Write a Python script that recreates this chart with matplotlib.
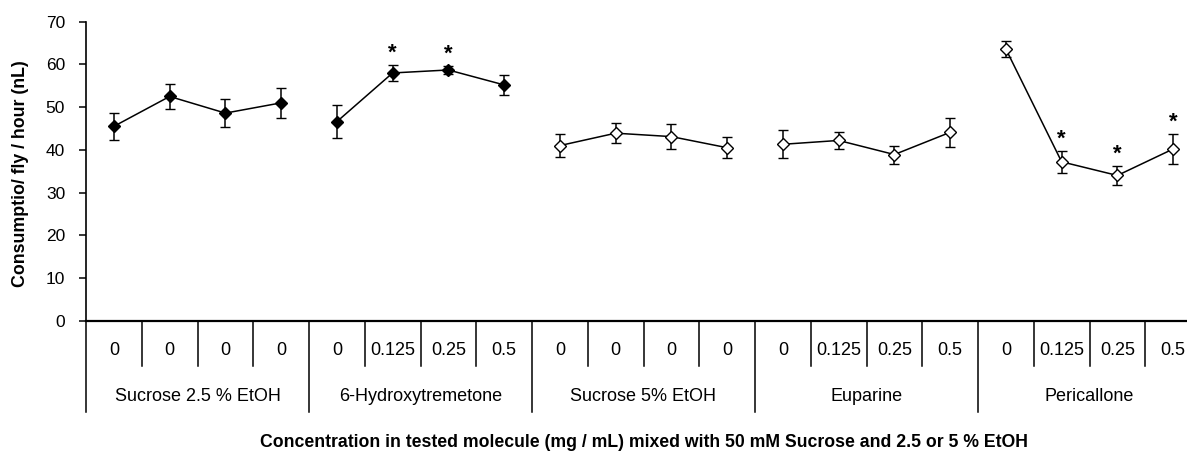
import numpy as np
import matplotlib
matplotlib.use("Agg")
import matplotlib.pyplot as plt
import matplotlib.transforms as mtransforms

plt.rcParams['font.family'] = ['Liberation Sans', 'DejaVu Sans']

# groups of four concentrations each
groups = ['Sucrose 2.5 % EtOH', '6-Hydroxytremetone', 'Sucrose 5% EtOH', 'Euparine', 'Pericallone']
conc_labels = ['0', '0', '0', '0',
               '0', '0.125', '0.25', '0.5',
               '0', '0', '0', '0',
               '0', '0.125', '0.25', '0.5',
               '0', '0.125', '0.25', '0.5']

# mean consumption per fly per hour (nL) and its error
means = [45.5, 52.5, 48.6, 51.0,
         46.6, 58.0, 58.7, 55.2,
         41.0, 43.9, 43.1, 40.5,
         41.3, 42.2, 38.9, 44.1,
         63.6, 37.2, 34.0, 40.2]
errs = [3.2, 2.9, 3.3, 3.5,
        3.9, 1.9, 1.0, 2.4,
        2.6, 2.4, 2.9, 2.5,
        3.3, 2.0, 2.1, 3.4,
        1.8, 2.6, 2.3, 3.4]
filled = [True, True, False, False, False]
significant = [6, 7, 18, 19, 20]  # 1-based positions marked with *

fig = plt.figure(figsize=(11.87, 4.51), dpi=100)
ax = fig.add_axes([86 / 1187, 130.3 / 451, 1115 / 1187, 299 / 451])

x = np.arange(len(means))
n = 4
for g in range(len(groups)):
    sl = slice(g * n, (g + 1) * n)
    ax.errorbar(x[sl], means[sl], yerr=errs[sl], color='black', lw=1.1,
                marker='D', ms=6.5, mec='black', mew=1.0,
                mfc='black' if filled[g] else 'white',
                ecolor='black', elinewidth=1.1, capsize=3.5, capthick=1.1, zorder=3)

for i in significant:
    ax.annotate('*', (x[i - 1], means[i - 1] + errs[i - 1]), xytext=(0, 1),
                textcoords='offset points', ha='center', va='bottom',
                fontsize=16, fontweight='bold')

ax.set_xlim(-0.5, len(means) - 0.5)
ax.set_ylim(0, 70)
ax.set_yticks(range(0, 71, 10))
ax.tick_params(axis='y', direction='out', length=5, width=1.1, labelsize=12.5, pad=10)
ax.set_xticks([])
for s in ['top', 'right']:
    ax.spines[s].set_visible(False)
ax.spines['left'].set_linewidth(1.2)
ax.spines['bottom'].set_linewidth(1.6)

fig.text(21 / 1187, 1 - 174 / 451, 'Consumptio/ fly / hour (nL)', rotation=90,
         ha='center', va='center', fontsize=12.8, fontweight='bold')

# two-level category axis drawn under the plot
trans = mtransforms.blended_transform_factory(ax.transData, ax.transAxes)
for b in range(len(means) + 1):
    xb = b - 0.5
    bottom = -0.305 if b % n == 0 else -0.151
    ax.plot([xb, xb], [0, bottom], transform=trans, color='black', lw=1.1, clip_on=False)
for i, lab in enumerate(conc_labels):
    ax.text(i, -0.098, lab, transform=trans, ha='center', va='center', fontsize=13)
for g, lab in enumerate(groups):
    ax.text(g * n + 1.5, -0.252, lab, transform=trans, ha='center', va='center', fontsize=13)

ax.text(0.5, -0.409, 'Concentration in tested molecule (mg / mL) mixed with 50 mM Sucrose and 2.5 or 5 % EtOH',
        transform=ax.transAxes, ha='center', va='center', fontsize=12.7, fontweight='bold')

fig.savefig('out.png', dpi=100)
